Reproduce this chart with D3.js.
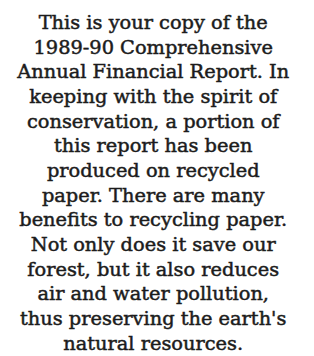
<!DOCTYPE html>
<html>
<head>
<meta charset="utf-8">
<script src="https://cdn.jsdelivr.net/npm/d3@7"></script>
<style>
html,body{margin:0;padding:0;background:#fff;}
svg{display:block;}
</style>
</head>
<body>
<script>
const lines = [
  "This is your copy of the",
  "1989-90 Comprehensive",
  "Annual Financial Report. In",
  "keeping with the spirit of",
  "conservation, a portion of",
  "this report has been",
  "produced on recycled",
  "paper. There are many",
  "benefits to recycling paper.",
  "Not only does it save our",
  "forest, but it also reduces",
  "air and water pollution,",
  "thus preserving the earth's",
  "natural resources."
];
const lineIndex = d3.range(lines.length);

const W = 314, H = 356;
const svg = d3.select("body").append("svg").attr("width", W).attr("height", H);

const y = d3.scalePoint().domain(lineIndex).range([29, 349.5]);
const x = d3.scaleLinear().domain([0, 1]).range([0, W]);

const txt = svg.append("g").selectAll("text").data(lines).join("text")
  .attr("x", x(0.488))
  .attr("y", (d, i) => y(i))
  .attr("text-anchor", "middle")
  .attr("font-family", "'DejaVu Serif', serif")
  .attr("font-size", 18)
  .attr("fill", "#1c1c1c")
  .attr("stroke", "#1c1c1c")
  .attr("stroke-width", 0.5)
  .text(d => d);

// scale font so the widest line spans about the same width as the original
const w3 = txt.nodes()[2].getComputedTextLength();
const fs = 18 * 272 / w3;
txt.attr("font-size", fs);
</script>
</body>
</html>
